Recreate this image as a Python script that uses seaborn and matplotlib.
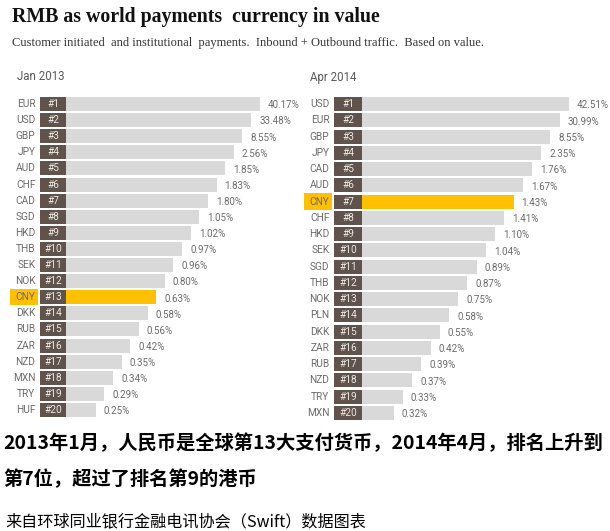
import numpy as np
import pandas as pd
import matplotlib
matplotlib.use("Agg")
import matplotlib.pyplot as plt
import seaborn as sns
from matplotlib.patches import Rectangle

# ---------------- data ----------------
title = "RMB as world payments  currency in value"
subtitle = "Customer initiated  and institutional  payments.  Inbound + Outbound traffic.  Based on value."

panel1_title = "Jan 2013"
cur_2013 = ["EUR", "USD", "GBP", "JPY", "AUD", "CHF", "CAD", "SGD", "HKD", "THB",
            "SEK", "NOK", "CNY", "DKK", "RUB", "ZAR", "NZD", "MXN", "TRY", "HUF"]
share_2013 = [40.17, 33.48, 8.55, 2.56, 1.85, 1.83, 1.80, 1.05, 1.02, 0.97,
              0.96, 0.80, 0.63, 0.58, 0.56, 0.42, 0.35, 0.34, 0.29, 0.25]

panel2_title = "Apr 2014"
cur_2014 = ["USD", "EUR", "GBP", "JPY", "CAD", "AUD", "CNY", "CHF", "HKD", "SEK",
            "SGD", "THB", "NOK", "PLN", "DKK", "ZAR", "RUB", "NZD", "TRY", "MXN"]
share_2014 = [42.51, 30.99, 8.55, 2.35, 1.76, 1.67, 1.43, 1.41, 1.10, 1.04,
              0.89, 0.87, 0.75, 0.58, 0.55, 0.42, 0.39, 0.37, 0.33, 0.32]

ranks = list(range(1, 21))
highlight = "CNY"

note_line1 = "2013年1月，人民币是全球第13大支付货币，2014年4月，排名上升到"
note_line2 = "第7位，超过了排名第9的港币"
source = "来自环球同业银行金融电讯协会（Swift）数据图表"

# ---------------- style ----------------
sns.set_theme(style="white")
plt.rcParams["font.family"] = ["DejaVu Sans"]

GRAY = "#d9d9d9"
GOLD = "#ffc000"
BROWN = "#5f534b"
TXT = "#6b6b6b"
LBL = ["Roboto", "DejaVu Sans"]

W, H = 610, 531
fig = plt.figure(figsize=(W / 100, H / 100), dpi=100)
fig.patch.set_facecolor("white")


def px_axes(x0, y0, x1, y1):
    return fig.add_axes([x0 / W, 1 - y1 / H, (x1 - x0) / W, (y1 - y0) / H])


def panel(ax, cur, share, box_w, step, xmax):
    df = pd.DataFrame({"cur": cur, "rank": ranks, "share": share})
    # bar length encodes the rank (longest bar = rank 1)
    df["total"] = box_w + step * (21 - df["rank"] + 2.45)
    df["box"] = box_w
    palette = {c: (GOLD if c == highlight else GRAY) for c in cur}
    sns.barplot(data=df, x="total", y="cur", hue="cur", palette=palette,
                order=cur, hue_order=cur, width=0.87, saturation=1,
                linewidth=0, legend=False, ax=ax, orient="h")
    sns.barplot(data=df, x="box", y="cur", color=BROWN, order=cur,
                width=0.87, saturation=1, linewidth=0, ax=ax, orient="h")
    for i, row in df.iterrows():
        if row["cur"] == highlight:
            ax.add_patch(Rectangle((-30, i - 0.5), 28, 1.0, facecolor=GOLD,
                                   edgecolor="none", clip_on=False, zorder=0))
        ax.text(-4.5, i, row["cur"], ha="right", va="center", fontsize=7.3,
                family=LBL, color=TXT, clip_on=False)
        ax.text(box_w / 2, i, f"#{row['rank']}", ha="center", va="center",
                fontsize=7.3, family=LBL, color="#ece8e4")
        ax.text(row["total"] + 8, i + 0.08, f"{row['share']:.2f}%", ha="left",
                va="center", fontsize=7, family=LBL, color=TXT, clip_on=False)
    ax.set_xlim(0, xmax)
    ax.set_ylim(19.5, -0.5)
    ax.set_axis_off()


ax1 = px_axes(40, 96, 305, 418)
panel(ax1, cur_2013, share_2013, box_w=26, step=8.63, xmax=265)

ax2 = px_axes(334, 96, 605, 421)
panel(ax2, cur_2014, share_2014, box_w=28, step=9.21, xmax=271)

# ---------------- texts ----------------
fig.text(12 / W, 1 - 17 / H, title, ha="left", va="center", fontsize=14.3,
         fontweight="bold", family=["Liberation Serif"], color="#111111")
fig.text(12 / W, 1 - 43 / H, subtitle, ha="left", va="center", fontsize=9,
         family=["Liberation Serif"], color="#333333")
fig.text(17 / W, 1 - 77 / H, panel1_title, ha="left", va="center", fontsize=8.3,
         family=LBL, color="#595959")
fig.text(310 / W, 1 - 77 / H, panel2_title, ha="left", va="center", fontsize=8.3,
         family=LBL, color="#595959")

cjk = ["Noto Sans CJK SC", "DejaVu Sans"]
fig.text(3 / W, 1 - 443 / H, note_line1, ha="left", va="center", fontsize=13.9,
         fontweight="bold", family=cjk, color="black")
fig.text(3 / W, 1 - 479 / H, note_line2, ha="left", va="center", fontsize=13.9,
         fontweight="bold", family=cjk, color="black")
fig.text(5 / W, 1 - 522 / H, source, ha="left", va="center", fontsize=11.6,
         fontweight="medium", family=cjk, color="black")

fig.savefig("out.png", dpi=100, facecolor="white")
